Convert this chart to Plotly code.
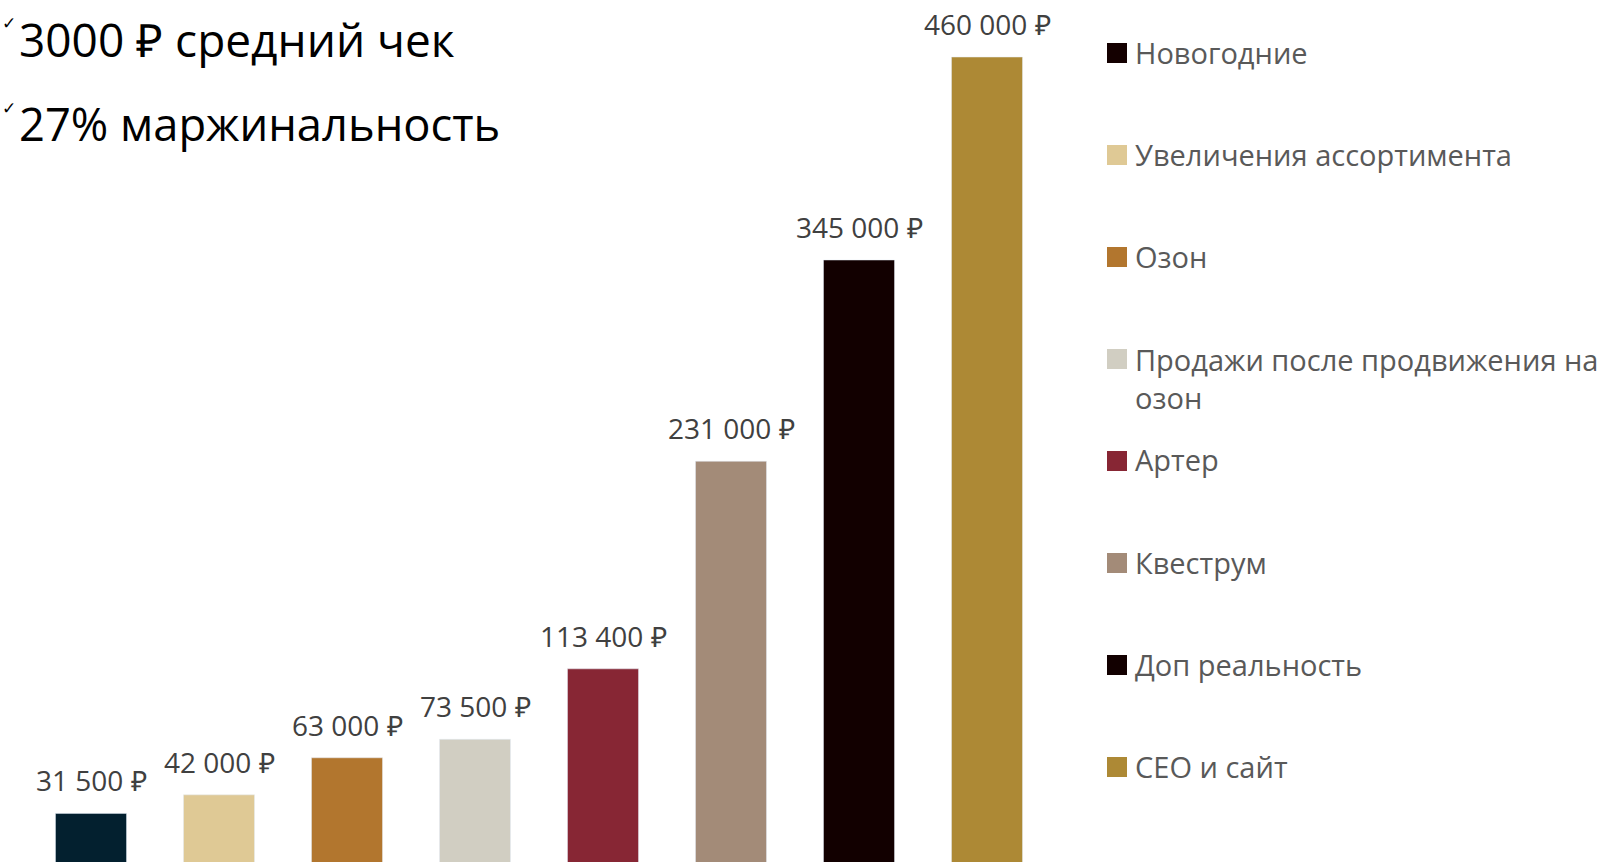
import plotly.graph_objects as go

# ---- data ----
names = ["Новогодние", "Увеличения ассортимента", "Озон",
         "Продажи после продвижения на озон", "Артер", "Квеструм",
         "Доп реальность", "СЕО и сайт"]
legend_labels = ["Новогодние", "Увеличения ассортимента", "Озон",
                 "Продажи после продвижения на<br>озон", "Артер", "Квеструм",
                 "Доп реальность", "СЕО и сайт"]
values = [31500, 42000, 63000, 73500, 113400, 231000, 345000, 460000]
value_labels = ["31 500 ₽", "42 000 ₽", "63 000 ₽", "73 500 ₽",
                "113 400 ₽", "231 000 ₽", "345 000 ₽", "460 000 ₽"]
bar_colors = ["#03202F", "#DFC995", "#B2762E", "#D1CEC2",
              "#872634", "#A38B78", "#120000", "#AD8935"]
legend_colors = ["#140000", "#DFC995", "#B2762E", "#D1CEC2",
                 "#872634", "#A38B78", "#120000", "#AD8935"]
notes = ["3000 ₽ средний чек", "27% маржинальность"]

W, H = 1610, 862
FONT = "Open Sans"
NOTE_SIZES = [46, 45.3]

fig = go.Figure()
for i, (n, v, c) in enumerate(zip(names, values, bar_colors)):
    fig.add_trace(go.Bar(x=[i], y=[v], name=n, marker_color=c, width=0.555,
                         showlegend=False, hovertemplate=n + ": %{y}<extra></extra>"))
    fig.add_annotation(x=i, y=v, text=value_labels[i], showarrow=False,
                       yanchor="middle", yshift=33,
                       font=dict(family=FONT, size=28, color="#404040"))

# manual legend
LS = 29
for j, (lab, col) in enumerate(zip(legend_labels, legend_colors)):
    cy = 53 + 102 * j
    fig.add_shape(type="rect", xref="paper", yref="paper",
                  x0=1107 / W, x1=1127 / W, y0=1 - (cy + 10) / H, y1=1 - (cy - 10) / H,
                  fillcolor=col, line_width=0)
    ty = cy - 1
    if "<br>" in lab:
        fig.add_annotation(xref="paper", yref="paper", x=1133 / W,
                           y=1 - (ty - 0.65 * LS - 1) / H, xanchor="left", yanchor="top",
                           align="left", text=lab, showarrow=False,
                           font=dict(family=FONT, size=LS, color="#595959"))
    else:
        fig.add_annotation(xref="paper", yref="paper", x=1133 / W, y=1 - ty / H,
                           xanchor="left", yanchor="middle", align="left", text=lab,
                           showarrow=False, font=dict(family=FONT, size=LS, color="#595959"))

# top-left notes
for k, t in enumerate(notes):
    cy = 39 + 85 * k
    fig.add_annotation(xref="paper", yref="paper", x=17 / W, y=1 - cy / H,
                       xanchor="left", yanchor="middle", text=t, showarrow=False,
                       font=dict(family=FONT, size=NOTE_SIZES[k], color="#000000"))
    fig.add_annotation(xref="paper", yref="paper", x=0, y=1 - (cy - 16) / H,
                       xanchor="left", yanchor="middle", text="✓", showarrow=False,
                       font=dict(family="DejaVu Sans", size=17, color="#000000"))

fig.update_layout(
    width=W, height=H, margin=dict(l=0, r=0, t=0, b=0),
    paper_bgcolor="white", plot_bgcolor="white",
    barmode="overlay", showlegend=False,
    xaxis=dict(range=[-91 / 128, -91 / 128 + W / 128], visible=False, fixedrange=True),
    yaxis=dict(range=[3966, 492300], visible=False, fixedrange=True),
)
fig.write_html("out.html", config={"displayModeBar": False},
               post_script="document.body.style.margin='0';document.body.style.overflow='hidden';")
